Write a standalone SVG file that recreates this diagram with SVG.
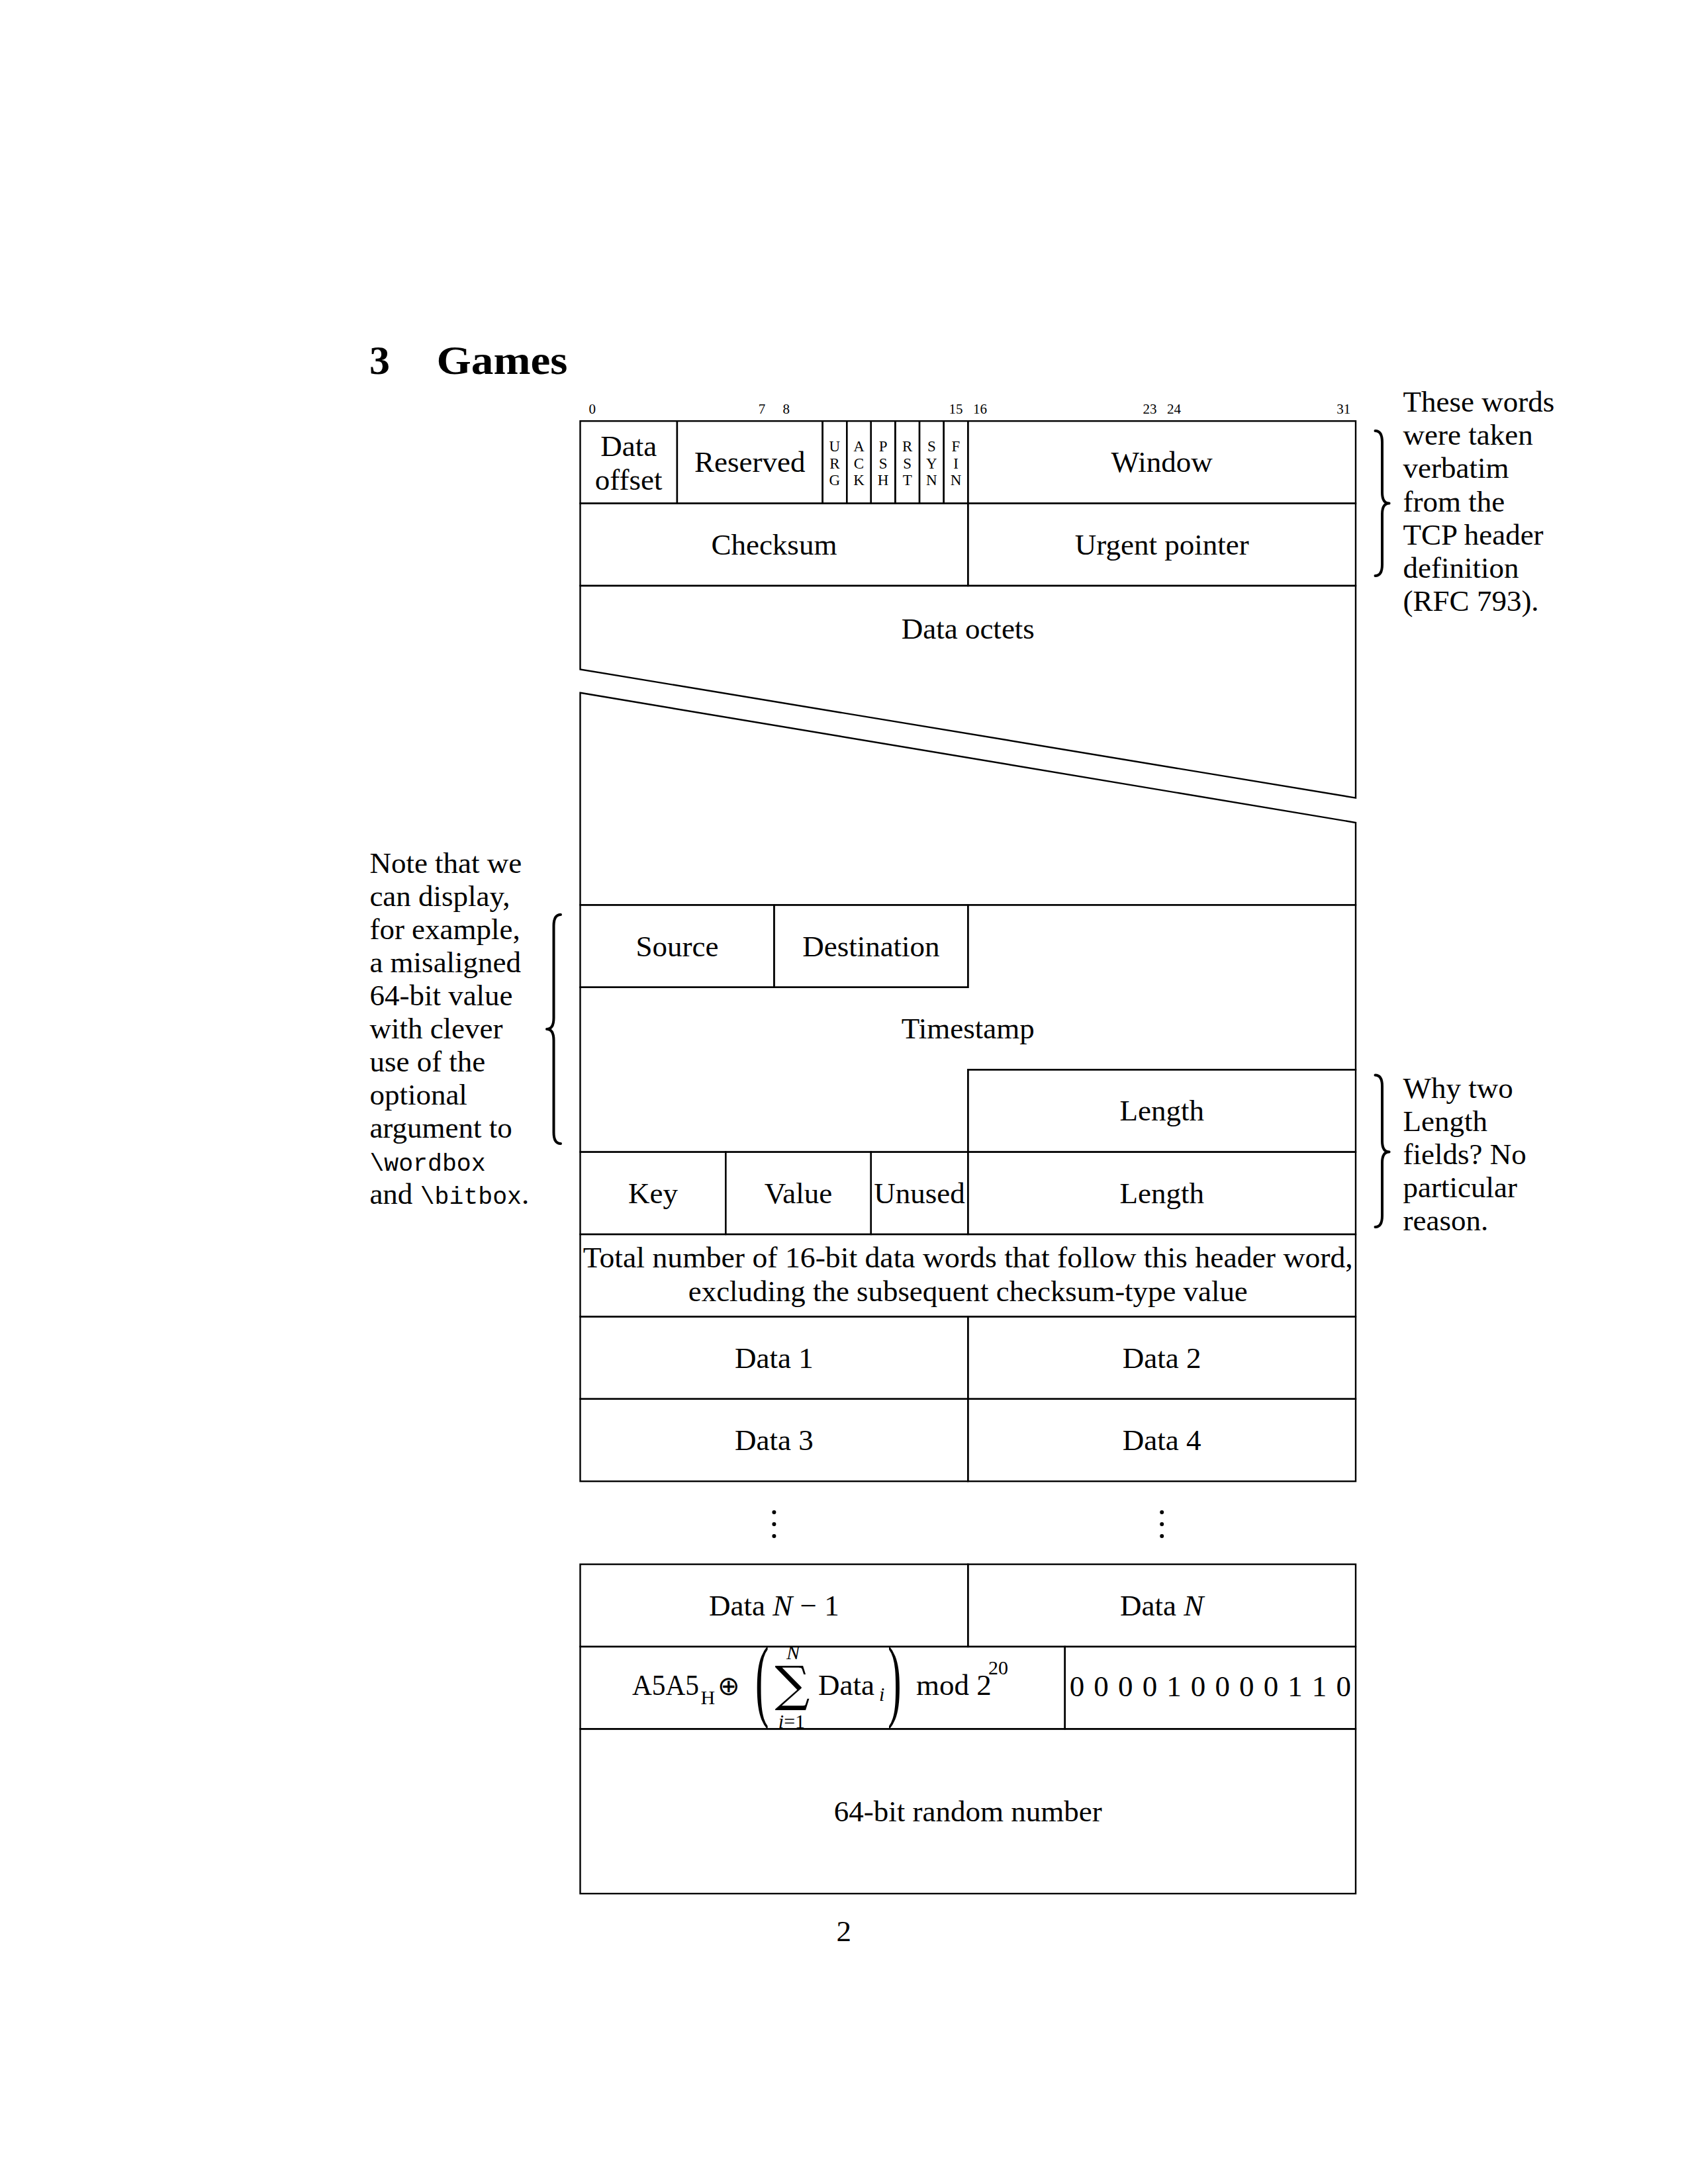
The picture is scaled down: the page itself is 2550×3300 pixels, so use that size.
<svg xmlns="http://www.w3.org/2000/svg" width="2550" height="3300" viewBox="0 0 2550 3300">
<style>
  .bg{fill:#ffffff}
  .cell{fill:none;stroke:#000;stroke-width:2.4;stroke-linejoin:miter}
  .t{font-family:"Liberation Serif","Times New Roman",serif;font-size:45px;fill:#000;text-anchor:middle}
  .note{font-family:"Liberation Serif","Times New Roman",serif;font-size:45px;fill:#000}
  .mono{font-family:"Liberation Mono","DejaVu Sans Mono",monospace;font-size:36.5px}
  .bit{font-family:"Liberation Serif","Times New Roman",serif;font-size:21px;fill:#000;text-anchor:middle}
  .flag{font-family:"Liberation Serif","Times New Roman",serif;font-size:23px;fill:#000;text-anchor:middle}
  .brace{fill:none;stroke:#000;stroke-width:4;stroke-linecap:round;stroke-linejoin:round}
  .title{font-family:"Liberation Serif","Times New Roman",serif;font-size:62px;font-weight:bold;fill:#000}
  .small{font-size:30px}
  .it{font-style:italic}
  .dot{fill:#000}
</style>
<rect class="bg" x="0" y="0" width="2550" height="3300"/>

<g id="section-title">
  <text class="title" x="558" y="565">3</text>
  <text class="title" x="659.5" y="565" textLength="198" lengthAdjust="spacingAndGlyphs">Games</text>
</g>

<g id="bit-numbers">
  <text class="bit" x="894.8" y="625">0</text>
  <text class="bit" x="1151.1" y="625">7</text>
  <text class="bit" x="1187.7" y="625">8</text>
  <text class="bit" x="1444" y="625">15</text>
  <text class="bit" x="1480.6" y="625">16</text>
  <text class="bit" x="1736.9" y="625">23</text>
  <text class="bit" x="1773.5" y="625">24</text>
  <text class="bit" x="2029.7" y="625">31</text>
</g>

<g id="data-offset">
  <rect class="cell" x="876.5" y="636.2" width="146.4" height="124.4"/>
  <text class="t" x="949.7" y="689">Data</text>
  <text class="t" x="949.7" y="740">offset</text>
</g>
<g id="reserved">
  <rect class="cell" x="1022.9" y="636.2" width="219.7" height="124.4"/>
  <text class="t" x="1132.8" y="713">Reserved</text>
</g>
<g id="flag-urg">
  <rect class="cell" x="1242.6" y="636.2" width="36.6" height="124.4"/>
  <text class="flag" x="1260.9" y="682">U</text><text class="flag" x="1260.9" y="707.5">R</text><text class="flag" x="1260.9" y="733">G</text>
</g>
<g id="flag-ack">
  <rect class="cell" x="1279.2" y="636.2" width="36.6" height="124.4"/>
  <text class="flag" x="1297.5" y="682">A</text><text class="flag" x="1297.5" y="707.5">C</text><text class="flag" x="1297.5" y="733">K</text>
</g>
<g id="flag-psh">
  <rect class="cell" x="1315.8" y="636.2" width="36.6" height="124.4"/>
  <text class="flag" x="1334.1" y="682">P</text><text class="flag" x="1334.1" y="707.5">S</text><text class="flag" x="1334.1" y="733">H</text>
</g>
<g id="flag-rst">
  <rect class="cell" x="1352.4" y="636.2" width="36.6" height="124.4"/>
  <text class="flag" x="1370.7" y="682">R</text><text class="flag" x="1370.7" y="707.5">S</text><text class="flag" x="1370.7" y="733">T</text>
</g>
<g id="flag-syn">
  <rect class="cell" x="1389" y="636.2" width="36.7" height="124.4"/>
  <text class="flag" x="1407.3" y="682">S</text><text class="flag" x="1407.3" y="707.5">Y</text><text class="flag" x="1407.3" y="733">N</text>
</g>
<g id="flag-fin">
  <rect class="cell" x="1425.7" y="636.2" width="36.6" height="124.4"/>
  <text class="flag" x="1444" y="682">F</text><text class="flag" x="1444" y="707.5">I</text><text class="flag" x="1444" y="733">N</text>
</g>
<g id="window">
  <rect class="cell" x="1462.3" y="636.2" width="585.7" height="124.4"/>
  <text class="t" x="1755.2" y="713">Window</text>
</g>

<g id="checksum">
  <rect class="cell" x="876.5" y="760.6" width="585.8" height="124.4"/>
  <text class="t" x="1169.4" y="838">Checksum</text>
</g>
<g id="urgent-pointer">
  <rect class="cell" x="1462.3" y="760.6" width="585.7" height="124.4"/>
  <text class="t" x="1755.2" y="838">Urgent pointer</text>
</g>

<g id="data-octets">
  <path class="cell" d="M876.5,1011.4 L876.5,885 L2048,885 L2048,1205.6 Z"/>
  <path class="cell" d="M876.5,1046.8 L2048,1243 L2048,1367.4 L876.5,1367.4 Z"/>
  <text class="t" x="1462.3" y="965">Data octets</text>
</g>

<g id="source">
  <rect class="cell" x="876.5" y="1367.4" width="292.9" height="124.4"/>
  <text class="t" x="1023" y="1445">Source</text>
</g>
<g id="destination">
  <rect class="cell" x="1169.4" y="1367.4" width="292.9" height="124.4"/>
  <text class="t" x="1315.9" y="1445">Destination</text>
</g>
<g id="timestamp">
  <path class="cell" d="M1462.3,1367.4 L2048,1367.4 L2048,1616.2 L1462.3,1616.2 L1462.3,1740.6 L876.5,1740.6 L876.5,1491.8 L1462.3,1491.8 Z"/>
  <text class="t" x="1462.3" y="1569">Timestamp</text>
</g>
<g id="length-1">
  <rect class="cell" x="1462.3" y="1616.2" width="585.7" height="124.4"/>
  <text class="t" x="1755.2" y="1693">Length</text>
</g>

<g id="key">
  <rect class="cell" x="876.5" y="1740.6" width="219.7" height="124.4"/>
  <text class="t" x="986.4" y="1818">Key</text>
</g>
<g id="value">
  <rect class="cell" x="1096.2" y="1740.6" width="219.6" height="124.4"/>
  <text class="t" x="1206" y="1818">Value</text>
</g>
<g id="unused">
  <rect class="cell" x="1315.8" y="1740.6" width="146.5" height="124.4"/>
  <text class="t" x="1389.1" y="1818">Unused</text>
</g>
<g id="length-2">
  <rect class="cell" x="1462.3" y="1740.6" width="585.7" height="124.4"/>
  <text class="t" x="1755.2" y="1818">Length</text>
</g>

<g id="total-number">
  <rect class="cell" x="876.5" y="1865" width="1171.5" height="124.4"/>
  <text class="t" x="1462.3" y="1915" textLength="1163" lengthAdjust="spacingAndGlyphs">Total number of 16-bit data words that follow this header word,</text>
  <text class="t" x="1462.3" y="1966" textLength="845" lengthAdjust="spacingAndGlyphs">excluding the subsequent checksum-type value</text>
</g>

<g id="data-1">
  <rect class="cell" x="876.5" y="1989.4" width="585.8" height="124.4"/>
  <text class="t" x="1169.4" y="2067">Data 1</text>
</g>
<g id="data-2">
  <rect class="cell" x="1462.3" y="1989.4" width="585.7" height="124.4"/>
  <text class="t" x="1755.2" y="2067">Data 2</text>
</g>
<g id="data-3">
  <rect class="cell" x="876.5" y="2113.8" width="585.8" height="124.4"/>
  <text class="t" x="1169.4" y="2191">Data 3</text>
</g>
<g id="data-4">
  <rect class="cell" x="1462.3" y="2113.8" width="585.7" height="124.4"/>
  <text class="t" x="1755.2" y="2191">Data 4</text>
</g>

<g id="vdots-left">
  <circle class="dot" cx="1169.4" cy="2285" r="3"/>
  <circle class="dot" cx="1169.4" cy="2303" r="3"/>
  <circle class="dot" cx="1169.4" cy="2321" r="3"/>
</g>
<g id="vdots-right">
  <circle class="dot" cx="1755.2" cy="2285" r="3"/>
  <circle class="dot" cx="1755.2" cy="2303" r="3"/>
  <circle class="dot" cx="1755.2" cy="2321" r="3"/>
</g>

<g id="data-n-1">
  <rect class="cell" x="876.5" y="2363.6" width="585.8" height="124.4"/>
  <text class="t" x="1169.4" y="2441">Data <tspan class="it">N</tspan> − 1</text>
</g>
<g id="data-n">
  <rect class="cell" x="1462.3" y="2363.6" width="585.7" height="124.4"/>
  <text class="t" x="1755.2" y="2441">Data <tspan class="it">N</tspan></text>
</g>

<g id="checksum-formula">
  <rect class="cell" x="876.5" y="2488" width="732.2" height="124.4"/>
  <text class="note" x="955" y="2561" textLength="101" lengthAdjust="spacingAndGlyphs">A5A5</text>
  <text class="note small" x="1058.5" y="2575">H</text>
  <text class="note" x="1100.6" y="2561" style="font-size:40px;text-anchor:middle">⊕</text>
  <text class="note" transform="translate(1141,2584) scale(1,2.25)" style="font-size:62px">(</text>
  <text class="note small it" x="1198" y="2507" style="text-anchor:middle">N</text>
  <text class="note" x="1197" y="2570" style="font-family:'DejaVu Serif',serif;font-size:74px;text-anchor:middle">∑</text>
  <text class="note small" x="1196" y="2611" style="text-anchor:middle"><tspan class="it">i</tspan>=1</text>
  <text class="note" x="1236" y="2561">Data</text>
  <text class="note small it" x="1328" y="2570">i</text>
  <text class="note" transform="translate(1341,2584) scale(1,2.25)" style="font-size:62px">)</text>
  <text class="note" x="1384" y="2561">mod 2</text>
  <text class="note small" x="1493" y="2530">20</text>
</g>
<g id="checksum-bits">
  <rect class="cell" x="1608.7" y="2488" width="439.3" height="124.4"/>
  <text class="t" x="1627" y="2563">0</text>
  <text class="t" x="1663.6" y="2563">0</text>
  <text class="t" x="1700.2" y="2563">0</text>
  <text class="t" x="1736.9" y="2563">0</text>
  <text class="t" x="1773.5" y="2563">1</text>
  <text class="t" x="1810.1" y="2563">0</text>
  <text class="t" x="1846.7" y="2563">0</text>
  <text class="t" x="1883.3" y="2563">0</text>
  <text class="t" x="1919.9" y="2563">0</text>
  <text class="t" x="1956.5" y="2563">1</text>
  <text class="t" x="1993.1" y="2563">1</text>
  <text class="t" x="2029.7" y="2563">0</text>
</g>

<g id="random-number">
  <rect class="cell" x="876.5" y="2612.4" width="1171.5" height="248.8"/>
  <text class="t" x="1462.3" y="2752">64-bit random number</text>
</g>

<g id="connectors">
  <path class="brace" d="M2077.5,651 Q2088,651 2088,668 L2088,744 Q2088,760.6 2098.6,760.6 Q2088,760.6 2088,777 L2088,853 Q2088,870 2077.5,870"/>
  <path class="brace" d="M2077.5,1624.5 Q2088,1624.5 2088,1641 L2088,1724 Q2088,1740.6 2098.6,1740.6 Q2088,1740.6 2088,1757 L2088,1837 Q2088,1854 2077.5,1854"/>
  <path class="brace" d="M847,1382 Q836.5,1382 836.5,1399 L836.5,1538 Q836.5,1555 826,1555 Q836.5,1555 836.5,1572 L836.5,1711 Q836.5,1728 847,1728"/>
</g>

<g id="note-right-1">
  <text class="note" x="2119.6" y="622">These words</text>
  <text class="note" x="2119.6" y="672.2">were taken</text>
  <text class="note" x="2119.6" y="722.4">verbatim</text>
  <text class="note" x="2119.6" y="772.6">from the</text>
  <text class="note" x="2119.6" y="822.8">TCP header</text>
  <text class="note" x="2119.6" y="873">definition</text>
  <text class="note" x="2119.6" y="923.2">(RFC 793).</text>
</g>
<g id="note-right-2">
  <text class="note" x="2119.6" y="1658.5">Why two</text>
  <text class="note" x="2119.6" y="1708.7">Length</text>
  <text class="note" x="2119.6" y="1758.9">fields? No</text>
  <text class="note" x="2119.6" y="1809.1">particular</text>
  <text class="note" x="2119.6" y="1859.3">reason.</text>
</g>
<g id="note-left">
  <text class="note" x="558.4" y="1319">Note that we</text>
  <text class="note" x="558.4" y="1369">can display,</text>
  <text class="note" x="558.4" y="1419">for example,</text>
  <text class="note" x="558.4" y="1469">a misaligned</text>
  <text class="note" x="558.4" y="1519">64-bit value</text>
  <text class="note" x="558.4" y="1569">with clever</text>
  <text class="note" x="558.4" y="1619">use of the</text>
  <text class="note" x="558.4" y="1669">optional</text>
  <text class="note" x="558.4" y="1719">argument to</text>
  <text class="note mono" x="558.4" y="1769">\wordbox</text>
  <text class="note" x="558.4" y="1819">and <tspan class="mono">\bitbox</tspan>.</text>
</g>

<g id="page-number">
  <text class="t" x="1274.7" y="2933">2</text>
</g>
</svg>
